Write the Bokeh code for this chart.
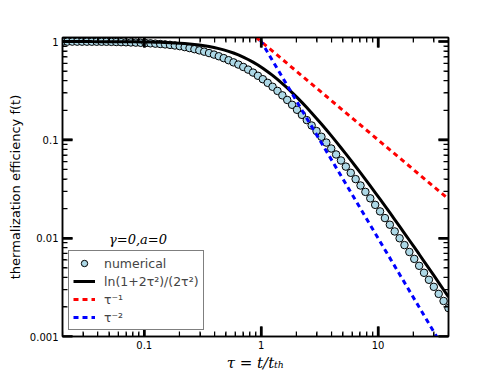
import math
from bokeh.plotting import figure
from bokeh.models import FixedTicker, LogAxis, Legend, LegendItem, Label, CustomJSTickFormatter
from bokeh.embed import file_html
from bokeh.resources import INLINE

# ---- data ----
tau = [0.02, 0.02203, 0.02425, 0.0267, 0.02939, 0.03236, 0.03563, 0.03922, 0.04318, 0.04754,
       0.05234, 0.05763, 0.06344, 0.06985, 0.07691, 0.08467, 0.09322, 0.1026, 0.113, 0.1244,
       0.137, 0.1508, 0.166, 0.1828, 0.2013, 0.2216, 0.244, 0.2686, 0.2958, 0.3256,
       0.3585, 0.3948, 0.4345, 0.4784, 0.5267, 0.5799, 0.6384, 0.7029, 0.7738, 0.8521,
       0.9382, 1.033, 1.137, 1.252, 1.379, 1.518, 1.671, 1.839, 2.025, 2.23,
       2.455, 2.703, 2.976, 3.276, 3.607, 3.972, 4.373, 4.814, 5.3, 5.836,
       6.425, 7.075, 7.788, 8.574, 9.441, 10.39, 11.44, 12.6, 13.87, 15.27,
       16.81, 18.51, 20.38, 22.44, 24.71, 27.2, 29.95, 32.97, 36.3, 39.97]

numerical = [0.9996, 0.9992, 0.9988, 0.9983, 0.9978, 0.9974, 0.9968, 0.9963, 0.9956, 0.9949,
             0.9931, 0.9899, 0.9865, 0.9832, 0.9794, 0.9756, 0.9715, 0.9665, 0.9597, 0.9525,
             0.9447, 0.9363, 0.9257, 0.9124, 0.8980, 0.8788, 0.8585, 0.8369, 0.8139, 0.7893,
             0.7639, 0.7373, 0.7088, 0.6786, 0.6465, 0.6144, 0.5839, 0.5518, 0.5184, 0.4838,
             0.4489, 0.4142, 0.3802, 0.3469, 0.3148, 0.2839, 0.2548, 0.2275, 0.2024, 0.1797,
             0.1590, 0.1400, 0.1230, 0.1076, 0.0939, 0.0817, 0.07108, 0.06173, 0.05347, 0.04623,
             0.03989, 0.03435, 0.02958, 0.02543, 0.02183, 0.01872, 0.01602, 0.01371, 0.01171, 0.009984,
             0.008506, 0.007241, 0.006160, 0.005237, 0.004447, 0.003774, 0.003200, 0.002713, 0.002298, 0.001945]

analytic = [0.9996, 0.9995, 0.9994, 0.9993, 0.9991, 0.9990, 0.9987, 0.9985, 0.9981, 0.9977,
            0.9973, 0.9967, 0.9960, 0.9952, 0.9941, 0.9929, 0.9914, 0.9896, 0.9874, 0.9849,
            0.9817, 0.9779, 0.9734, 0.9680, 0.9616, 0.9539, 0.9449, 0.9341, 0.9216, 0.9069,
            0.8900, 0.8705, 0.8484, 0.8234, 0.7955, 0.7648, 0.7314, 0.6955, 0.6575, 0.6177,
            0.5768, 0.5353, 0.4938, 0.4528, 0.4128, 0.3742, 0.3375, 0.3029, 0.2706, 0.2406,
            0.2132, 0.1881, 0.1654, 0.1450, 0.1267, 0.1104, 0.09595, 0.08323, 0.07202, 0.06219,
            0.05360, 0.04611, 0.03962, 0.03399, 0.02911, 0.02490, 0.02127, 0.01816, 0.01548, 0.01318,
            0.01121, 0.009527, 0.008092, 0.006868, 0.005822, 0.004933, 0.004176, 0.003535, 0.002989, 0.002526]

power_tau = [0.9, 40.0]
tau_inv1 = [1.111, 0.025]
tau_inv2 = [1.235, 0.000625]

x_ticks = [0.1, 1.0, 10.0]
y_ticks = [0.001, 0.01, 0.1, 1.0]

X0, X1 = 0.02, 40.0
Y0, Y1 = 0.001, 1.1

x_minor = [k * 10.0 ** e for e in range(-2, 2) for k in range(2, 10) if X0 <= k * 10.0 ** e <= X1]
y_minor = [k * 10.0 ** e for e in range(-3, 0) for k in range(2, 10) if Y0 <= k * 10.0 ** e <= Y1]

FW, FH = 386, 299

p = figure(x_axis_type="log", y_axis_type="log", x_range=(X0, X1), y_range=(Y0, Y1),
           width=498, height=374, min_border_left=62, min_border_right=50,
           min_border_top=37, min_border_bottom=38,
           output_backend="svg", toolbar_location=None)
p.xgrid.grid_line_color = None
p.ygrid.grid_line_color = None
p.outline_line_color = "black"
p.outline_line_width = 1.5

xb = p.below[0]
yl = p.left[0]


def style(ax, ticks, minor, labels=True):
    ax.ticker = FixedTicker(ticks=ticks, minor_ticks=minor)
    ax.major_tick_in = 10
    ax.major_tick_out = 0
    ax.minor_tick_in = 4
    ax.minor_tick_out = 0
    ax.major_tick_line_width = 2
    ax.axis_line_width = 1.5
    ax.major_label_text_font = "DejaVu Sans"
    ax.major_label_text_font_size = "10px"
    if labels:
        ax.formatter = CustomJSTickFormatter(code="return tick.toString()")
        ax.major_label_text_color = "black"
        ax.major_label_standoff = 4
    else:
        ax.major_label_text_alpha = 0
        ax.major_label_standoff = 0


style(xb, x_ticks, x_minor)
style(yl, y_ticks, y_minor)

top = LogAxis()
style(top, x_ticks, x_minor, labels=False)
p.add_layout(top, "above")
right = LogAxis()
style(right, y_ticks, y_minor, labels=False)
p.add_layout(right, "right")

xb.axis_label = "τ = t/tₜₕ"
xb.axis_label_text_font = "DejaVu Serif"
xb.axis_label_text_font_style = "italic"
xb.axis_label_text_font_size = "15px"
xb.axis_label_standoff = 2
xb.axis_label_text_color = "black"

yl.axis_label = "thermalization efficiency f(t)"
yl.axis_label_text_font = "DejaVu Sans"
yl.axis_label_text_font_style = "normal"
yl.axis_label_text_font_size = "13px"
yl.axis_label_standoff = 4
yl.axis_label_text_color = "black"

r_num = p.scatter(tau, numerical, size=7.5, fill_color="#add8e6", line_color="black", line_width=1)
r_an = p.line(tau, analytic, line_color="black", line_width=3)
r_inv1 = p.line(power_tau, tau_inv1, line_color="#ff0000", line_width=3, line_dash="5 4")
r_inv2 = p.line(power_tau, tau_inv2, line_color="#0000ff", line_width=3, line_dash="5 4")

# inward tick marks on all four sides, drawn last so nothing covers them
x_dec_px = FW / math.log10(X1 / X0)
y_dec_px = FH / math.log10(Y1 / Y0)
fx_major, fx_minor = 10 ** (10 / x_dec_px), 10 ** (5 / x_dec_px)
fy_major, fy_minor = 10 ** (10 / y_dec_px), 10 ** (5 / y_dec_px)


def ticks_x(vals, fy, w):
    n = len(vals)
    p.segment(x0=vals, y0=[Y0] * n, x1=vals, y1=[Y0 * fy] * n, line_color="black", line_width=w)
    p.segment(x0=vals, y0=[Y1] * n, x1=vals, y1=[Y1 / fy] * n, line_color="black", line_width=w)


def ticks_y(vals, fx, w):
    n = len(vals)
    p.segment(x0=[X0] * n, y0=vals, x1=[X0 * fx] * n, y1=vals, line_color="black", line_width=w)
    p.segment(x0=[X1] * n, y0=vals, x1=[X1 / fx] * n, y1=vals, line_color="black", line_width=w)


ticks_x(x_ticks, fy_major, 2.5)
ticks_x(x_minor, fy_minor, 1.2)
ticks_y(y_ticks, fx_major, 2.5)
ticks_y(y_minor, fx_minor, 1.2)

legend = Legend(items=[
    LegendItem(label="numerical", renderers=[r_num]),
    LegendItem(label="ln(1+2τ²)/(2τ²)", renderers=[r_an]),
    LegendItem(label="τ⁻¹", renderers=[r_inv1]),
    LegendItem(label="τ⁻²", renderers=[r_inv2]),
], location="bottom_left")
legend.border_line_color = "black"
legend.border_line_width = 1.5
legend.background_fill_alpha = 1
legend.padding = 4
legend.spacing = 2
legend.margin = 6
legend.glyph_width = 22
legend.glyph_height = 16
legend.label_standoff = 9
legend.label_text_font = "DejaVu Sans"
legend.label_text_font_size = "12.5px"
legend.label_height = 16
p.add_layout(legend)

p.add_layout(Label(x=0.05, y=0.0097, text="γ=0,a=0", text_font="DejaVu Serif",
                   text_font_style="italic", text_font_size="13px", text_baseline="middle",
                   text_color="black"))

open("out.html", "w").write(file_html(p, INLINE))
